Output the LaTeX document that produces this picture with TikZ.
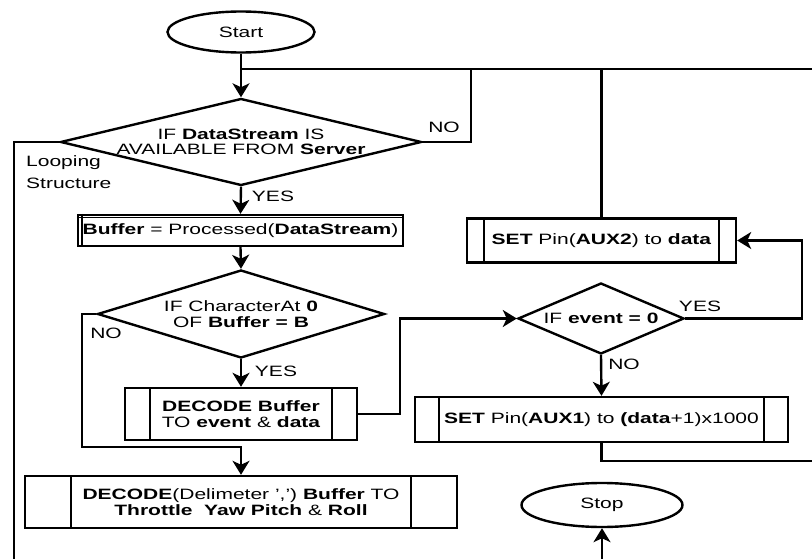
\documentclass[tikz,border=0pt]{standalone}
\usepackage{fontspec}
\setmainfont{Liberation Sans}[FakeStretch=1.4]
\usetikzlibrary{shapes.geometric,arrows.meta}
\begin{document}
\begin{tikzpicture}[x=1pt,y=-1pt, line width=2.4pt,
  >={Stealth[length=14pt,width=17pt,inset=4pt]},
  font=\fontsize{15}{15.5}\selectfont,
  term/.style={ellipse, draw, minimum width=147pt, minimum height=41pt, inner sep=0pt},
  dec/.style={diamond, draw, inner sep=0pt, align=center},
  proc/.style={draw, inner sep=0pt, align=center},
  sub/.style={draw, inner sep=0pt, align=center,
    path picture={
      \draw[line width=2.4pt] ([xshift=#1]path picture bounding box.north west) -- ([xshift=#1]path picture bounding box.south west);
      \draw[line width=2.4pt] ([xshift=-#1]path picture bounding box.north east) -- ([xshift=-#1]path picture bounding box.south east);}},
  lbl/.style={inner sep=0pt}]
\useasboundingbox (0,0) rectangle (812,559);

% nodes
\node[term] (start) at (241,32) {Start};
\node[dec, shape aspect=4.15, minimum width=361pt, minimum height=87pt] (d1) at (241,142)
  {IF \textbf{DataStream} IS\\AVAILABLE FROM \textbf{Server}};
\node[proc, minimum width=325pt, minimum height=31pt] (buf) at (240.5,230.5)
  {\textbf{Buffer} = Processed(\textbf{DataStream})};
\draw[line width=1.4pt] ([xshift=5pt]buf.north west) -- ([xshift=5pt]buf.south west);
\draw[line width=1.4pt] ([yshift=-3.5pt]buf.north west) -- ([yshift=-3.5pt]buf.north east);
\node[dec, shape aspect=3.26, minimum width=287pt, minimum height=88pt] (d2) at (241,314)
  {IF CharacterAt \textbf{0}\\OF \textbf{Buffer = B}};
\node[sub=25pt, minimum width=232pt, minimum height=52pt] (dec1) at (241,414)
  {\textbf{DECODE Buffer}\\TO \textbf{event} \& \textbf{data}};
\node[sub=46pt, minimum width=432pt, minimum height=52pt] (dec2) at (241,502)
  {\textbf{DECODE}(Delimeter ',') \textbf{Buffer} TO\\\textbf{Throttle\ \ Yaw Pitch} \& \textbf{Roll}};
\node[dec, shape aspect=2.34, minimum width=166pt, minimum height=71pt] (d3) at (601,318.5)
  {IF \textbf{event = 0}};
\node[sub=17pt, minimum width=269pt, minimum height=44pt] (aux2) at (601.5,240.5)
  {\textbf{SET} Pin(\textbf{AUX2}) to \textbf{data}};
\node[sub=24pt, minimum width=373pt, minimum height=45pt] (aux1) at (601.5,419.5)
  {\textbf{SET} Pin(\textbf{AUX1}) to \textbf{(data}+1)x1000};
\node[term, minimum width=161pt, minimum height=44pt] (stop) at (602,505) {Stop};

% labels
\node[lbl] (yes1) at (273,196) {YES};
\node[lbl] (no1) at (444,127) {NO};
\node[lbl, align=left, anchor=west, font=\fontsize{15}{22}\selectfont] (loop) at (25,172) {Looping\\Structure};
\node[lbl] (no2) at (106,333) {NO};
\node[lbl] (yes2) at (276,371) {YES};
\node[lbl] (yes3) at (700,306) {YES};
\node[lbl] (no3) at (624,364) {NO};

% coordinates
\coordinate (j1) at (241,69);
\coordinate (r1) at (812,69);
\coordinate (n1) at (471,69);
\coordinate (bl) at (14,559);
\coordinate (c2) at (82,447);
\coordinate (c3) at (400,414);
\coordinate (c4) at (802,280);
\coordinate (r2) at (812,461);
\coordinate (sb) at (602,559);

% connectors
\draw[->] (start.south) -- (d1.north);
\draw (j1) -- (r1);
\draw (d1.east) -| (n1);
\draw (d1.west) -| (bl);
\draw[->] (d1.south) -- (buf.north);
\draw[->] (buf.south) -- (d2.north);
\draw[->] (d2.south) -- (dec1.north);
\draw[->] (d2.west) -| (c2) -| (dec2.north);
\draw[->] (dec1.east) -- (c3) |- (d3.west);
\draw[->] (d3.east) -| (c4) |- (aux2.east);
\draw (aux2.north) -- (aux2.north |- j1);
\draw[->] (d3.south) -- (aux1.north);
\draw (aux1.south) |- (r2);
\draw[->] (sb) -- (stop.south);
\end{tikzpicture}
\end{document}
